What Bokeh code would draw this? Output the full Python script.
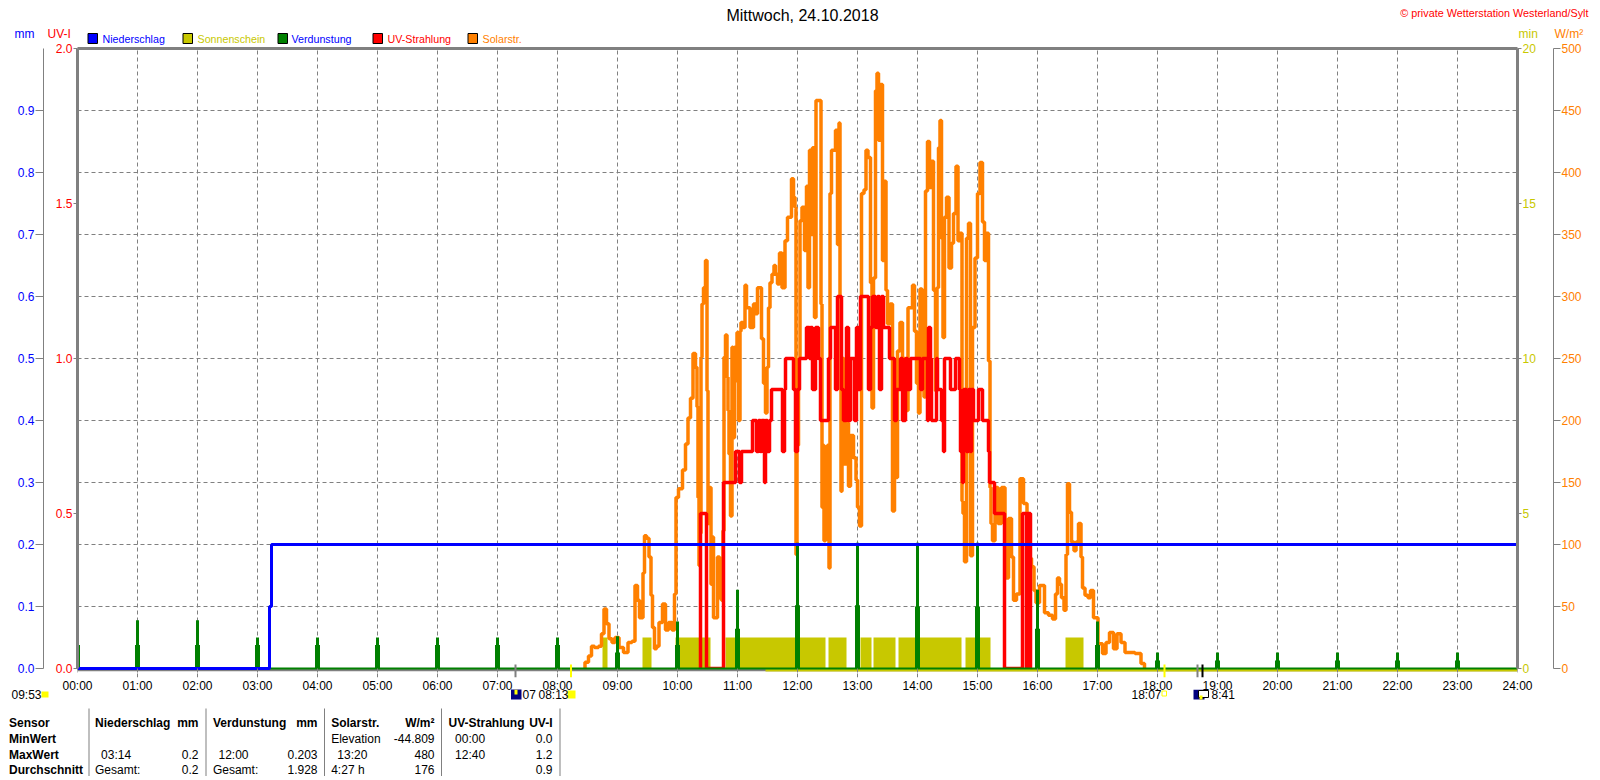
from bokeh.plotting import figure
from bokeh.models import Range1d, LinearAxis, FixedTicker, Label
from bokeh.embed import file_html
from bokeh.resources import INLINE

FONT = "Liberation Sans"
BLUE, OLIVE, GREEN, RED, ORANGE = "#0000ff", "#c8c800", "#008000", "#ff0000", "#ff8000"
GREY = "#808080"
YELLOW = "#ffff00"
NAVY = "#000080"

hour_minutes = [h * 60 for h in range(25)]
hour_labels = {m: "%02d:00" % (m // 60) for m in hour_minutes}
mm_ticks = [0.0, 0.1, 0.2, 0.3, 0.4, 0.5, 0.6, 0.7, 0.8, 0.9]
uv_ticks = [0.0, 0.5, 1.0, 1.5, 2.0]
min_ticks = [0, 5, 10, 15, 20]
wm_ticks = [0, 50, 100, 150, 200, 250, 300, 350, 400, 450, 500]
grid_uv = [0.2, 0.4, 0.6, 0.8, 1.0, 1.2, 1.4, 1.6, 1.8]

rain_t = [0, 192, 192, 194, 194, 1440]
rain_mm = [0, 0, 0.1, 0.1, 0.2, 0.2]

verd_hours = list(range(24))
verd_peak = [.05, .078, .078, .05, .05, .05, .05, .05, .05, .052, .076, .127, .203, .203, .203, .203, .127, .076,
             .026, .026, .026, .026, .026, .026]
verd_shoulder = [.038, .038, .038, .038, .038, .038, .038, .038, .038, .026, .038, .064, .102, .102, .1, .1, .064, .038,
                 .013, .013, .013, .013, .013, .013]

sun_start = [525, 565, 598, 648, 751, 783, 796, 821, 888, 988]
sun_end = [530, 574, 633, 748, 769, 794, 818, 884, 913, 1006]
sun_min = [1, 1, 1, 1, 1, 1, 1, 1, 1, 1]
sun_line_start = [688]
sun_line_end = [1440]
sun_line_depth = [-0.1]

uv_t = [623, 623, 629, 646, 658, 662, 664, 675, 679, 681, 683, 684, 687, 688, 690, 692, 694, 705, 707, 708, 716, 718, 720, 722,
        729, 732, 733, 735, 738, 741, 743, 751, 753, 758, 760, 764, 766, 769, 771, 773, 777, 779, 781, 783, 791, 793,
        795, 798, 800, 802, 804, 806, 812, 817, 819, 823, 825, 828, 830, 833, 843, 845, 850, 851, 853, 854, 859, 860,
        864, 866, 867, 873, 878, 882, 883, 885, 886, 889, 891, 893, 894, 896, 901, 905, 911, 912, 917, 927, 945, 949,
        950, 953]
uv_i = [0, .5, 0, .6, .7, .6, .7, .8, .7, .8, .7, .8, .6, .8, .7, .8, .9, .7, .9, 1.0, .9, .7, .9, 1.0,
        1.1, 1.0, 1.1, .9, 1.1, 1.0, .8, 1.0, 1.1, .9, 1.2, .9, .8, 1.1, .8, 1.0, .8, 1.1, .9, 1.2, .9, 1.1,
        1.2, 1.1, 1.2, .9, 1.2, 1.1, 1.0, .8, .9, 1.0, .8, 1.0, .9, 1.0, .9, 1.0, .8, 1.1, 1.0, .8, 1.0, .9,
        .8, .7, 1.0, .9, 1.0, .9, .7, .6, .9, .7, .9, .7, .9, .8, .9, .8, .7, .6, .5, 0, .5, 0,
        .5, 0]

solar_t = [506, 509, 513, 515, 519, 523, 525, 528, 530, 533, 536, 539, 544, 548, 553, 556, 559, 561, 563, 565, 566, 568,
           570, 573, 574, 576, 578, 580, 583, 587, 589, 593, 596, 598, 599, 603, 607, 609, 612, 614, 617, 619, 620, 621,
           622, 623, 624, 625, 627, 629, 630, 631, 633, 634, 635, 637, 639, 641, 643, 645, 646, 647, 649, 650, 651, 652,
           654, 655, 656, 658, 659, 660, 662, 663, 664, 667, 668, 670, 675, 677, 679, 681, 683, 685, 687, 689, 690, 692,
           693, 696, 697, 699, 701, 703, 706, 709, 711, 713, 715, 717, 718, 719, 720, 722, 723, 726, 728, 730, 731, 733,
           734, 736, 738, 739, 743, 744, 745, 746, 747, 749, 751, 752, 753, 755, 757, 759, 761, 762, 763, 764, 765, 768,
           770, 772, 774, 778, 779, 781, 783, 785, 788, 789, 792, 794, 795, 797, 799, 800, 802, 804, 806, 808, 809, 811,
           814, 816, 818, 819, 821, 824, 826, 829, 832, 834, 836, 838, 840, 842, 843, 846, 847, 849, 851, 853, 855, 857,
           859, 860, 862, 863, 865, 866, 868, 870, 873, 875, 877, 880, 881, 884, 885, 886, 888, 890, 892, 894, 896, 899,
           901, 904, 906, 908, 910, 912, 913, 914, 916, 919, 922, 926, 929, 933, 935, 937, 941, 944, 948, 951, 953, 955,
           958, 959, 965, 969, 973, 977, 979, 981, 983, 985, 988, 989, 991, 993, 995, 998, 999, 1003, 1004, 1006, 1009,
           1012, 1014, 1018, 1023, 1027, 1030, 1034, 1038, 1041, 1046, 1049, 1054, 1061, 1066, 1068]
solar_w = [0, 5, 10, 18, 17, 18, 28, 48, 36, 24, 21, 25, 17, 13, 21, 22, 67, 55, 41, 41, 77, 107,
           105, 90, 59, 33, 16, 18, 37, 52, 31, 37, 31, 60, 138, 145, 160, 181, 202, 218, 254, 243, 211, 138,
           83, 109, 251, 294, 307, 329, 224, 117, 146, 68, 106, 41, 41, 90, 57, 55, 111, 251, 269, 235, 208, 173,
           123, 259, 186, 259, 232, 271, 200, 272, 279, 275, 309, 291, 275, 294, 286, 307, 307, 266, 230, 206, 243, 291,
           311, 318, 325, 318, 310, 335, 307, 345, 364, 364, 395, 380, 372, 92, 180, 250, 361, 372, 337, 389, 307, 418,
           350, 420, 283, 458, 458, 294, 130, 180, 103, 122, 180, 81, 383, 418, 418, 434, 342, 440, 299, 143, 250, 165,
           198, 147, 188, 170, 152, 130, 115, 383, 386, 418, 412, 311, 210, 315, 466, 480, 426, 471, 329, 393, 305, 278,
           294, 127, 200, 154, 256, 279, 250, 208, 291, 291, 309, 272, 230, 206, 306, 240, 219, 385, 425, 388, 409, 305,
           224, 307, 420, 442, 347, 267, 364, 380, 323, 343, 367, 405, 345, 351, 135, 125, 86, 347, 359, 91, 275, 331,
           383, 408, 360, 329, 351, 248, 146, 117, 103, 146, 117, 146, 73, 121, 90, 55, 60, 153, 133, 85, 89, 82,
           63, 53, 67, 45, 43, 40, 60, 73, 68, 57, 47, 92, 149, 126, 102, 95, 102, 117, 90, 65, 59,
           57, 63, 41, 20, 12, 21, 29, 16, 28, 21, 13, 13, 12, 4, 0]

event_t = [438, 493.5, 1087, 1120, 1125]
event_colors = [GREY, YELLOW, YELLOW, GREY, "black"]
event_top_mm = [0.0065] * 5
event_bottom_mm = [-0.0145] * 5

legend_names = ["Niederschlag", "Sonnenschein", "Verdunstung", "UV-Strahlung", "Solarstr."]
legend_fill = [BLUE, OLIVE, GREEN, RED, ORANGE]
legend_text = [BLUE, OLIVE, BLUE, RED, ORANGE]
legend_swatch_x = [87.5, 182.5, 277.5, 372.5, 467.5]
legend_text_x = [102, 197, 291, 387, 482]

W = 1596
FX0, FX1, FY0, ZERO = 77, 1517, 48, 668
BELOW = 9          # pixels of frame kept under the zero line, for the marks that hang below it
HEAD_BOTTOM = 45
MAIN_TOP = 41
MAIN_BOTTOM = 695
FOOT_TOP = 689
PAGE_BOTTOM = 776
PX = ZERO - FY0
frac = BELOW / PX


def strip(top, bottom):
    f = figure(width=W, height=bottom - top, output_backend="svg", toolbar_location=None,
               x_range=Range1d(0, W), y_range=Range1d(bottom, top), x_axis_type=None, y_axis_type=None,
               min_border=0, outline_line_color=None)
    f.grid.visible = False
    f.background_fill_color = None
    f.border_fill_color = None
    return f


head = strip(0, HEAD_BOTTOM)
foot = strip(FOOT_TOP, PAGE_BOTTOM)
foot.margin = (FOOT_TOP - MAIN_BOTTOM, 0, 0, 0)


def txt(f, px, py, s, color="black", size="12px", align="left", bold=False):
    f.add_layout(Label(x=px, y=py, text=s, text_color=color, text_font=FONT, text_font_size=size,
                       text_align=align, text_baseline="middle",
                       text_font_style="bold" if bold else "normal"))


def box(f, x0, y0, x1, y1, fill, line=None):
    f.quad(left=[x0], right=[x1], top=[y0], bottom=[y1], fill_color=fill, line_color=line, line_width=1)


p = figure(width=W, height=MAIN_BOTTOM - MAIN_TOP, output_backend="svg", toolbar_location=None,
           x_range=Range1d(0, 1440), y_range=Range1d(-2 * frac, 2),
           min_border_left=FX0, min_border_right=W - FX1,
           min_border_top=FY0 - MAIN_TOP, min_border_bottom=MAIN_BOTTOM - ZERO - BELOW)
p.margin = (MAIN_TOP - HEAD_BOTTOM, 0, 0, 0)
p.extra_y_ranges = {"mm": Range1d(-frac, 1), "min": Range1d(-20 * frac, 20), "wm": Range1d(-500 * frac, 500)}
p.background_fill_color = "white"
p.border_fill_color = None
p.outline_line_color = None

p.xgrid.ticker = FixedTicker(ticks=hour_minutes[1:-1])
p.xgrid.bounds = (0, 2)
p.ygrid.ticker = FixedTicker(ticks=grid_uv)
for g in (p.xgrid, p.ygrid):
    g.grid_line_color = GREY
    g.grid_line_dash = "4 3"
    g.grid_line_width = 1

xa = p.xaxis[0]
xa.ticker = FixedTicker(ticks=hour_minutes)
xa.major_label_overrides = hour_labels
xa.axis_line_color = None
xa.major_tick_line_color = None
xa.major_tick_out = 0
xa.major_tick_in = 0
xa.major_label_standoff = 1
xa.major_label_text_font = FONT
xa.major_label_text_font_size = "12px"
xa.major_label_text_color = "black"
xa.minor_tick_line_color = None

top_line = LinearAxis(ticker=FixedTicker(ticks=[]), axis_line_color=GREY, axis_line_width=3,
                      major_tick_line_color=None, minor_tick_line_color=None, major_label_text_color=None,
                      major_tick_out=0, major_tick_in=0, major_label_text_font_size="1px", major_label_standoff=0)
p.add_layout(top_line, "above")


def style_axis(a, color, ticks, bounds, line=GREY, tick_out=4, line_width=1):
    a.ticker = FixedTicker(ticks=ticks)
    a.bounds = bounds
    a.axis_line_color = line
    a.axis_line_width = line_width
    a.major_tick_line_color = GREY
    a.major_tick_out = tick_out
    a.major_tick_in = 0
    a.minor_tick_line_color = None
    a.major_label_standoff = 1
    a.major_label_text_font = FONT
    a.major_label_text_font_size = "12px"
    a.major_label_text_color = color
    a.major_label_text_baseline = "middle"


uva = p.yaxis[0]
style_axis(uva, RED, uv_ticks, (0, 2), line_width=3)
uva.major_label_overrides = {v: "%.1f" % v for v in uv_ticks}
uva.axis_label = " "
uva.axis_label_text_font_size = "6px"
uva.axis_label_standoff = 0

mma = LinearAxis(y_range_name="mm")
style_axis(mma, BLUE, mm_ticks, (0, 1), tick_out=8)
mma.major_label_overrides = {v: "%.1f" % v for v in mm_ticks}
p.add_layout(mma, "left")

mna = LinearAxis(y_range_name="min")
style_axis(mna, OLIVE, min_ticks, (0, 20), line_width=3)
mna.axis_label = " "
mna.axis_label_text_font_size = "10px"
mna.axis_label_standoff = 1
p.add_layout(mna, "right")

wma = LinearAxis(y_range_name="wm")
style_axis(wma, ORANGE, wm_ticks, (0, 500), tick_out=7)
p.add_layout(wma, "right")

# data layers
p.quad(left=sun_start, right=sun_end, bottom=0, top=sun_min, y_range_name="min",
       fill_color=OLIVE, line_color=None)
p.step(solar_t, solar_w, mode="center", y_range_name="wm", line_color=ORANGE, line_width=3.5)
p.step(uv_t, uv_i, mode="after", line_color=RED, line_width=3.5)
p.vbar(x=[h * 60 for h in verd_hours], width=5, bottom=0, top=verd_shoulder, y_range_name="mm",
       fill_color=GREEN, line_color=None)
p.vbar(x=[h * 60 for h in verd_hours], width=3, bottom=0, top=verd_peak, y_range_name="mm",
       fill_color=GREEN, line_color=None)
p.line([0, 1440], [-0.002, -0.002], y_range_name="mm", line_color=GREY, line_width=3)
p.quad(left=sun_line_start, right=sun_line_end, top=0, bottom=sun_line_depth, y_range_name="min",
       fill_color=OLIVE, line_color=None)
p.line([0, 1440], [0, 0], y_range_name="mm", line_color=GREEN, line_width=2)
p.line(rain_t, rain_mm, y_range_name="mm", line_color=BLUE, line_width=3)
p.segment(x0=hour_minutes, x1=hour_minutes, y0=[0] * 25, y1=[-0.0065] * 25, y_range_name="mm",
          line_color=GREY, line_width=1)
p.segment(x0=event_t, x1=event_t, y0=event_top_mm, y1=event_bottom_mm, y_range_name="mm",
          line_color=event_colors, line_width=2)

# header
txt(head, 802, 15, "Mittwoch, 24.10.2018", size="16px", align="center")
txt(head, 1588, 12, "\u00a9 private Wetterstation Westerland/Sylt", RED, "10.8px", "right")
txt(head, 14, 33, "mm", BLUE)
txt(head, 47, 33, "UV-I", RED)
txt(head, 1518, 33, "min", OLIVE)
txt(head, 1554, 33, "W/m\u00b2", ORANGE)
for sx, tx, name, fc, tc in zip(legend_swatch_x, legend_text_x, legend_names, legend_fill, legend_text):
    box(head, sx, 33, sx + 9.5, 43, fc, "black")
    txt(head, tx, 38, name, tc, size="10.7px")

# event row
txt(foot, 11, 694, "09:53")
box(foot, 41, 691, 48, 697, YELLOW)
box(foot, 510.5, 688, 521, 699, NAVY)
box(foot, 514, 689, 517, 694, YELLOW)
txt(foot, 522, 694, "07")
txt(foot, 538, 694, "08:13")
box(foot, 567, 690, 575, 698, YELLOW)
txt(foot, 1131, 694, "18:07")
box(foot, 1161.5, 690.5, 1166, 695.5, "white", YELLOW)
box(foot, 1193, 689, 1204, 699, NAVY)
box(foot, 1198, 690, 1208, 697, "white", "black")
box(foot, 1199, 695, 1202, 699, YELLOW)
txt(foot, 1211, 694, "8:41")

# statistics table
for dx in (88.5, 205.5, 324, 441, 559.5):
    box(foot, dx - 0.5, 708, dx + 0.5, PAGE_BOTTOM, GREY)
rows = [722, 738, 754, 769]
for y, s in zip(rows, ["Sensor", "MinWert", "MaxWert", "Durchschnitt"]):
    txt(foot, 8.5, y, s, bold=True)
txt(foot, 94.5, rows[0], "Niederschlag", bold=True)
txt(foot, 198, rows[0], "mm", align="right", bold=True)
txt(foot, 212.4, rows[0], "Verdunstung", bold=True)
txt(foot, 317, rows[0], "mm", align="right", bold=True)
txt(foot, 330.7, rows[0], "Solarstr.", bold=True)
txt(foot, 434, rows[0], "W/m\u00b2", align="right", bold=True)
txt(foot, 448, rows[0], "UV-Strahlung", bold=True)
txt(foot, 552, rows[0], "UV-I", align="right", bold=True)
txt(foot, 330.7, rows[1], "Elevation")
txt(foot, 434, rows[1], "-44.809", align="right")
txt(foot, 454.6, rows[1], "00:00")
txt(foot, 552, rows[1], "0.0", align="right")
txt(foot, 100.6, rows[2], "03:14")
txt(foot, 198, rows[2], "0.2", align="right")
txt(foot, 218, rows[2], "12:00")
txt(foot, 317, rows[2], "0.203", align="right")
txt(foot, 336.8, rows[2], "13:20")
txt(foot, 434, rows[2], "480", align="right")
txt(foot, 454.6, rows[2], "12:40")
txt(foot, 552, rows[2], "1.2", align="right")
txt(foot, 94.5, rows[3], "Gesamt:")
txt(foot, 198, rows[3], "0.2", align="right")
txt(foot, 212.4, rows[3], "Gesamt:")
txt(foot, 317, rows[3], "1.928", align="right")
txt(foot, 330.7, rows[3], "4:27 h")
txt(foot, 434, rows[3], "176", align="right")
txt(foot, 552, rows[3], "0.9", align="right")

open("out.html", "w").write(file_html([head, p, foot], INLINE))
